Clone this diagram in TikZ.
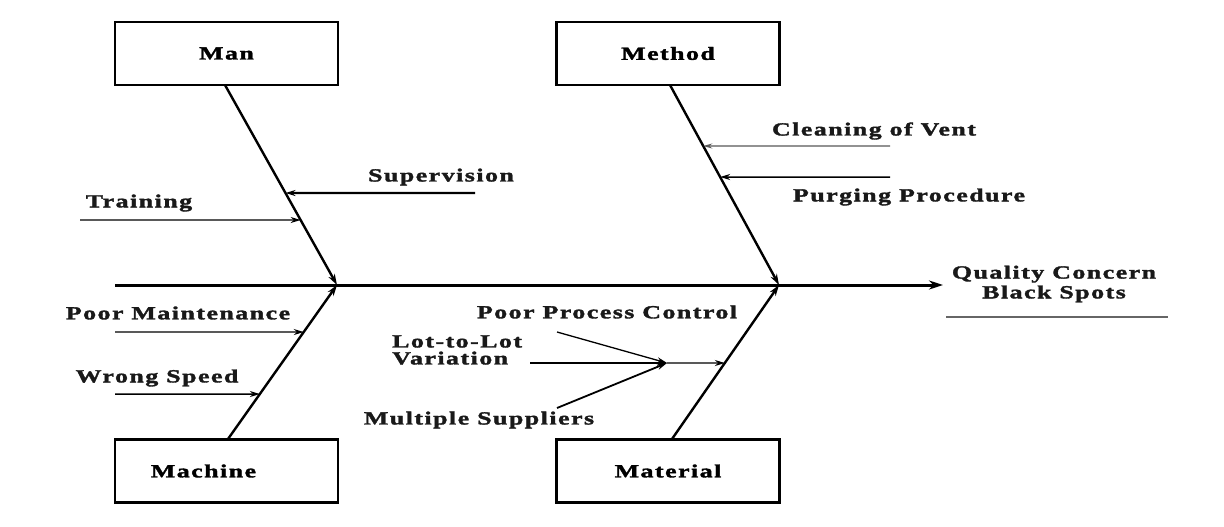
\documentclass[tikz,border=0pt]{standalone}
\usepackage{fontspec}
\setmainfont{Liberation Serif}[FakeStretch=1.4,LetterSpace=8,BoldFeatures={FakeBold=1.8}]
\usetikzlibrary{arrows.meta,calc}
\begin{document}
\begin{tikzpicture}[x=1pt,y=-1pt,
  lbl/.style={font=\fontsize{18.5}{16}\bfseries\selectfont, inner sep=0pt, text=black!90},
  catbox/.style={draw, line width=2.6pt, minimum width=223pt, minimum height=63pt, inner sep=0pt, font=\fontsize{18.5}{16}\bfseries\selectfont},
  spine/.style={line width=3pt, -{Stealth[length=14pt,width=9pt]}},
  bone/.style={line width=2.4pt, -{Stealth[length=11pt,width=7pt]}},
  rib/.style={line width=1.5pt, -{Stealth[length=10pt,width=6pt]}},
  thinrib/.style={line width=1.2pt, draw=black!65, -{Stealth[length=9pt,width=5pt]}},
]
\useasboundingbox (0,0) rectangle (1224,527);
\fill[white] (0,0) rectangle (1224,527);

% category boxes
\node[catbox] (man) at (226.5,53.5) {Man};
\node[catbox] (method) at (668,53.5) {Method};
\node[catbox] (machine) at (226.5,471) {\hspace*{-46pt}Machine};
\node[catbox] (material) at (668,471) {Material};

% spine
\coordinate (tail) at (115,285);
\coordinate (jL) at (337,285);
\coordinate (jR) at (779,285);
\coordinate (head) at (943,285);
\draw[spine] (tail) -- (head);

% branch start points
\coordinate (manB) at (225,85);
\coordinate (methB) at (670,85);
\coordinate (machB) at (228,439);
\coordinate (matB) at (672,439);

\draw[bone] (manB) -- (jL);
\draw[bone] (methB) -- (jR);
\draw[bone] (machB) -- (jL);
\draw[bone] (matB) -- (jR);

% rib end points on branches
\coordinate (supT) at (intersection of manB--jL and 0,193--10,193);
\coordinate (traT) at (intersection of manB--jL and 0,220--10,220);
\coordinate (clnT) at (intersection of methB--jR and 0,146--10,146);
\coordinate (prgT) at (intersection of methB--jR and 0,177--10,177);
\coordinate (pmT) at (intersection of machB--jL and 0,332--10,332);
\coordinate (wsT) at (intersection of machB--jL and 0,394--10,394);
\coordinate (matT) at (intersection of matB--jR and 0,363--10,363);

% rib free ends
\coordinate (supS) at (475,193);
\coordinate (traS) at (80,220);
\coordinate (clnS) at (890,146);
\coordinate (prgS) at (890,177);
\coordinate (pmS) at (115,332);
\coordinate (wsS) at (115,394);
\coordinate (junc) at (667,363);
\coordinate (ppcS) at (557,332);
\coordinate (lotS) at (530,363);
\coordinate (mulS) at (557,408);

\draw[rib, line width=2.2pt] (supS) -- (supT);
\draw[rib, line width=1.2pt] (traS) -- (traT);
\draw[thinrib] (clnS) -- (clnT);
\draw[rib] (prgS) -- (prgT);
\draw[rib, line width=1.3pt] (pmS) -- (pmT);
\draw[rib] (wsS) -- (wsT);
\draw[rib, line width=1.3pt] (junc) -- (matT);
\draw[rib, line width=1.3pt] (ppcS) -- (junc);
\draw[rib, line width=1.8pt] (lotS) -- (junc);
\draw[rib, line width=1.8pt] (mulS) -- (junc);

% labels
\node[lbl] (supL) at (441,177) {Supervision};
\node[lbl] (traL) at (139,203) {Training};
\node[lbl] (clnL) at (874,131) {Cleaning of Vent};
\node[lbl] (prgL) at (909,197) {Purging Procedure};
\node[lbl] (pmL) at (178,313) {Poor Maintenance};
\node[lbl] (wsL) at (157,378) {Wrong Speed};
\node[lbl] (ppcL) at (607,312) {Poor Process Control};
\node[lbl, align=left, anchor=west] (lotL) at (392,350) {Lot-to-Lot\\[1pt]Variation};
\node[lbl] (mulL) at (479,420) {Multiple Suppliers};
\node[lbl, align=center] (qcL) at (1054,284) {Quality Concern\\[2pt]Black Spots};
\coordinate (ulA) at (946,317);
\coordinate (ulB) at (1168,317);
\draw[line width=1.2pt, black!60] (ulA) -- (ulB);
\end{tikzpicture}
\end{document}
